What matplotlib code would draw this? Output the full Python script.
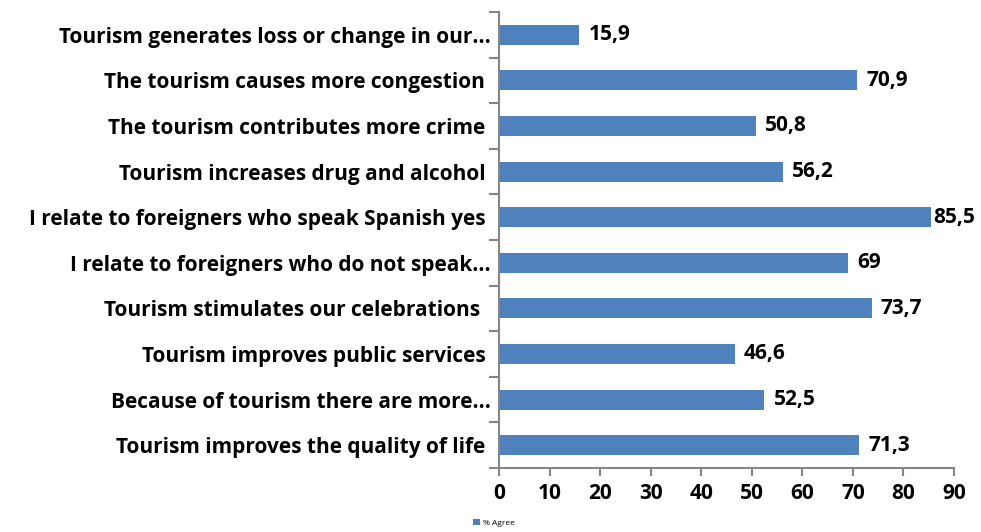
import matplotlib
matplotlib.use("Agg")
import matplotlib.pyplot as plt
import numpy as np

LABELS = [
    "Tourism improves the quality of life ",
    "Because of tourism there are more...",
    "Tourism improves public services ",
    "Tourism stimulates our celebrations  ",
    "I relate to foreigners who do not speak...",
    "I relate to foreigners who speak Spanish yes ",
    "Tourism increases drug and alcohol ",
    "The tourism contributes more crime ",
    "The tourism causes more congestion ",
    "Tourism generates loss or change in our...",
]
VALUES = [71.3, 52.5, 46.6, 73.7, 69, 85.5, 56.2, 50.8, 70.9, 15.9]
VALUE_TEXT = ["71,3", "52,5", "46,6", "73,7", "69", "85,5", "56,2", "50,8", "70,9", "15,9"]

BAR_COLOR = "#4F81BD"
AXIS_COLOR = "#868686"
FONT = "Open Sans"
FS = 15

fig = plt.figure(figsize=(9.81, 5.32), dpi=100)
ax = fig.add_axes([499 / 981, (532 - 468) / 532, (954 - 499) / 981, (468 - 12) / 532])

y = np.arange(len(LABELS))
bars = ax.barh(y, VALUES, height=0.44, color=BAR_COLOR, label="% Agree", zorder=2)

# labels sit just right of the bar; the longest one is pulled in to stay on the canvas
for yi, v, t in zip(y, VALUES, VALUE_TEXT):
    ax.text(min(v + 1.8, 85.8), yi, t, va="center", ha="left", fontsize=FS,
            fontweight="bold", family=FONT, color="black", clip_on=False)

ax.set_xlim(0, 90)
ax.set_ylim(-0.5, len(LABELS) - 0.5)
ax.set_xticks(range(0, 91, 10))
ax.set_xticklabels([str(i) for i in range(0, 91, 10)], fontsize=FS,
                   fontweight="bold", family=FONT)

# category labels without ticks, boundary ticks on minor locator
ax.set_yticks(y)
ax.set_yticklabels(LABELS, fontsize=FS, fontweight="bold", family=FONT)
ax.tick_params(axis="y", which="major", length=0, pad=6)
ax.set_yticks(np.arange(-0.5, len(LABELS), 1), minor=True)
ax.tick_params(axis="y", which="minor", length=7, color=AXIS_COLOR, width=1.5)
ax.tick_params(axis="x", length=6, color=AXIS_COLOR, width=1.5, pad=5)

for side in ("top", "right"):
    ax.spines[side].set_visible(False)
for side in ("left", "bottom"):
    ax.spines[side].set_color(AXIS_COLOR)
    ax.spines[side].set_linewidth(1.5)

fig.legend(handles=[bars], labels=["% Agree"], loc="center",
           bbox_to_anchor=(494 / 981, 1 - 523 / 532), frameon=False,
           handlelength=0.8, handleheight=0.8, handletextpad=0.4,
           prop={"family": FONT, "size": 6})

fig.savefig("out.png", dpi=100)
